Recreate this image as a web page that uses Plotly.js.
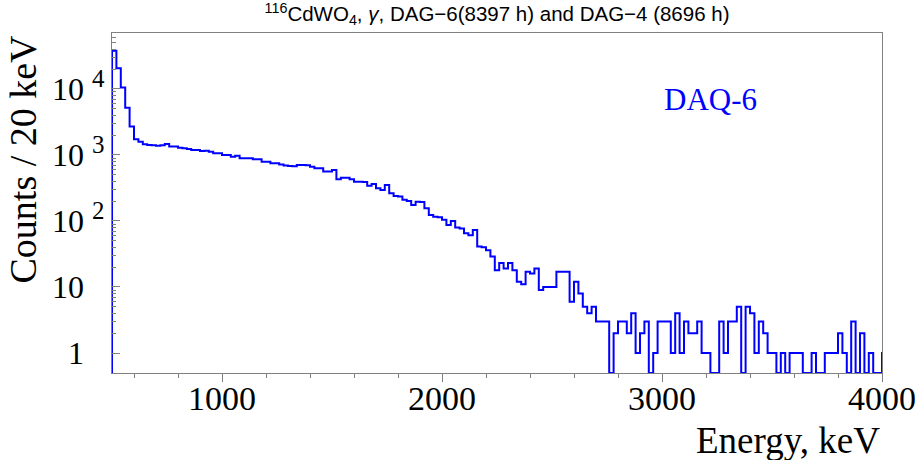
<!DOCTYPE html>
<html><head><meta charset="utf-8">
<script src="https://cdn.plot.ly/plotly-3.0.1.min.js"></script>
<style>html,body{margin:0;padding:0;background:#fff}</style>
</head><body><div id="chart" style="width:922px;height:460px"></div>
<script>
// Histogram: 20 keV bins starting at 500 keV (last entry is the bin just past 4000 keV)
const binStart = 500;
const binWidth = 20;
const counts = [
  38000, 20600, 10500, 5200, 2690, 1730, 1590, 1450, 1420, 1400,
  1380, 1400, 1470, 1340, 1340, 1290, 1260, 1230, 1190, 1190,
  1150, 1160, 1120, 1060, 1060, 1000, 1000, 940, 970, 890,
  890, 890, 860, 860, 790, 790, 750, 750, 720, 690,
  680, 675, 705, 705, 700, 665, 630, 628, 560, 560,
  593, 430, 453, 450, 428, 394, 394, 390, 343, 363,
  313, 295, 350, 263, 239, 235, 210, 201, 175, 196,
  194, 156, 123, 116, 114, 104, 87, 100, 80, 77,
  65, 61, 73, 41, 40, 36, 29, 18, 23, 19,
  23, 18, 12, 11, 17, 16, 19, 9, 10, 10,
  10, 17, 17, 17, 6, 12, 8, 5, 4, 5,
  3, 3, 3, 0, 2, 3, 3, 2, 4, 1,
  2, 3, 0, 1, 3, 3, 3, 1, 4, 1,
  3, 2, 2, 3, 1, 1, 0, 0, 3, 1,
  3, 3, 5, 0, 5, 4, 1, 3, 2, 1,
  1, 0, 1, 0, 1, 1, 1, 0, 0, 1,
  0, 0, 1, 1, 1, 2, 1, 0, 3, 0,
  2, 0, 1, 0, 0, 1
];

const xRange = [500, 4000];
const yRangeLog = [-0.303, 4.848];
const xTickVals = [1000, 2000, 3000, 4000];
const xTickText = ['1000', '2000', '3000', '4000'];
const yTickVals = [1, 10, 100, 1000, 10000];
const yExponents = ['', '', '2', '3', '4'];
const yBases = ['1', '10', '10', '10', '10'];

const titleText = '<sup>116</sup>CdWO<sub>4</sub>, <i>γ</i>, DAG−6(8397 h) and DAG−4 (8696 h)';
const xTitle = 'Energy, keV';
const yTitle = 'Counts / 20 keV';
const tagText = 'DAQ-6';

// build step line from bins
const floorVal = Math.pow(10, yRangeLog[0]);
const xs = [binStart], ys = [floorVal];
counts.forEach((c, i) => { xs.push(binStart + i * binWidth); ys.push(c > 0 ? c : floorVal); });
xs.push(binStart + counts.length * binWidth); ys.push(ys[ys.length - 1]);

const expSpan = e => '<sup><span style="font-size:25px">' + e + '</span></sup>';
const pad = '<span style="color:rgba(0,0,0,0)"> ' + expSpan('4') + '</span>';
const yTickText = yBases.map((b, i) => yExponents[i] ? b + ' ' + expSpan(yExponents[i]) : b + pad);

const yMinor = [];
for (let d = 0; d <= 4; d++) for (let m = 2; m <= 9; m++) yMinor.push(m * Math.pow(10, d));

const axisCol = '#808080';
const serif = 'Liberation Serif, Times New Roman, serif';

Plotly.newPlot('chart', [{
  type: 'scatter', mode: 'lines', x: xs, y: ys,
  line: {shape: 'hv', color: '#0000ff', width: 2},
  hoverinfo: 'skip', showlegend: false
}], {
  width: 922, height: 460,
  margin: {l: 112, r: 40, t: 33, b: 87},
  paper_bgcolor: '#ffffff', plot_bgcolor: '#ffffff',
  title: {text: titleText, font: {family: 'Liberation Sans, Arial, sans-serif', size: 20.5, color: '#000'},
          x: 0.5, xref: 'paper', xanchor: 'center', y: 1 - 14 / 460, yref: 'container', yanchor: 'middle'},
  xaxis: {
    range: xRange, showgrid: false, zeroline: false,
    showline: true, mirror: true, linecolor: axisCol, linewidth: 1,
    ticks: 'outside', ticklen: 8, tickcolor: axisCol, tickwidth: 1,
    tickmode: 'array', tickvals: xTickVals, ticktext: xTickText,
    tickfont: {family: serif, size: 34, color: '#000'},
    ticklabelstandoff: -13,
    minor: {ticks: 'outside', ticklen: 4, tickcolor: axisCol, dtick: 200, tick0: 0, showgrid: false}
  },
  yaxis: {
    type: 'log', range: yRangeLog, showgrid: false, zeroline: false,
    showline: true, mirror: true, linecolor: axisCol, linewidth: 1,
    ticks: 'inside', ticklen: 8, tickcolor: axisCol, tickwidth: 1,
    tickmode: 'array', tickvals: yTickVals, ticktext: yTickText,
    tickfont: {family: serif, size: 32, color: '#000'},
    ticklabelstandoff: 0,
    minor: {ticks: 'inside', ticklen: 4, tickcolor: axisCol, tickmode: 'array', tickvals: yMinor, showgrid: false}
  },
  annotations: [
    {text: xTitle, xref: 'paper', yref: 'paper', x: 1.0, y: (373 - 440) / 340,
     xanchor: 'right', yanchor: 'middle', showarrow: false,
     font: {family: serif, size: 37, color: '#000'}},
    {text: yTitle, xref: 'paper', yref: 'paper', x: (22 - 112) / 770, y: (373 - 33) / 340,
     xanchor: 'center', yanchor: 'top', textangle: -90, showarrow: false,
     font: {family: serif, size: 38, color: '#000'}},
    {text: tagText, xref: 'paper', yref: 'paper', x: (662 - 112) / 770, y: (373 - 100) / 340,
     xanchor: 'left', yanchor: 'middle', showarrow: false,
     font: {family: serif, size: 31, color: '#0000ff'}}
  ]
}, {displayModeBar: false, staticPlot: true});
</script>
</body></html>
